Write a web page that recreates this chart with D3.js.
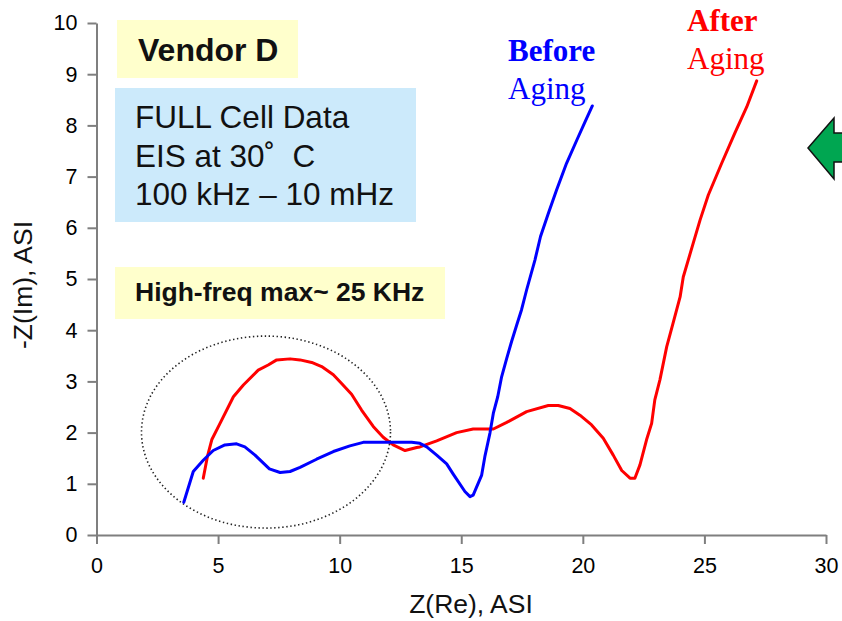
<!DOCTYPE html>
<html>
<head>
<meta charset="utf-8">
<script src="https://cdn.jsdelivr.net/npm/d3@7"></script>
<style>
  html, body { margin: 0; padding: 0; background: #fff; }
  svg { display: block; }
  text { white-space: pre; }
</style>
</head>
<body>
<svg id="chart" width="842" height="621"></svg>
<script>
// Nyquist plot data: Z(Re) and -Z(Im) in ASI units
const beforeRe = [3.59, 3.98, 4.39, 4.80, 5.28, 5.76, 6.10, 6.52, 7.11, 7.55, 7.96, 8.37, 9.05, 9.74, 10.42, 10.97, 11.93, 12.96, 13.30, 13.58, 13.99, 14.40, 14.67, 15.15, 15.36, 15.49, 15.84, 15.97, 16.18, 16.32, 16.50, 16.66, 16.87, 17.07, 17.30, 17.48, 17.69, 18.03, 18.26, 18.58, 18.92, 19.33, 19.75, 20.09, 20.39];
const beforeIm = [0.64, 1.24, 1.46, 1.65, 1.76, 1.78, 1.72, 1.56, 1.29, 1.22, 1.24, 1.32, 1.48, 1.63, 1.74, 1.81, 1.81, 1.81, 1.79, 1.72, 1.56, 1.39, 1.19, 0.85, 0.75, 0.78, 1.17, 1.53, 1.99, 2.38, 2.70, 3.09, 3.45, 3.78, 4.13, 4.40, 4.79, 5.37, 5.83, 6.28, 6.74, 7.26, 7.71, 8.07, 8.38];

const afterRe = [4.39, 4.56, 4.74, 5.08, 5.63, 6.04, 6.65, 7.06, 7.41, 7.96, 8.37, 8.85, 9.26, 9.74, 10.08, 10.49, 10.90, 11.38, 11.79, 12.20, 12.69, 13.17, 13.30, 13.99, 14.81, 15.49, 16.32, 16.87, 17.69, 18.58, 18.99, 19.47, 19.88, 20.36, 20.84, 21.25, 21.60, 21.94, 22.14, 22.35, 22.62, 22.83, 22.96, 23.17, 23.45, 23.70, 24.00, 24.13, 24.54, 24.82, 25.16, 25.71, 26.25, 26.74, 27.15];
const afterIm = [1.11, 1.53, 1.86, 2.18, 2.70, 2.93, 3.22, 3.32, 3.42, 3.44, 3.42, 3.37, 3.29, 3.13, 2.96, 2.75, 2.44, 2.12, 1.91, 1.76, 1.65, 1.71, 1.72, 1.84, 2.00, 2.07, 2.07, 2.20, 2.41, 2.53, 2.53, 2.47, 2.34, 2.15, 1.89, 1.56, 1.26, 1.11, 1.11, 1.37, 1.86, 2.18, 2.64, 3.03, 3.68, 4.12, 4.65, 5.04, 5.70, 6.15, 6.64, 7.26, 7.85, 8.36, 8.87];

const xTicks = [0, 5, 10, 15, 20, 25, 30];
const yTicks = [0, 1, 2, 3, 4, 5, 6, 7, 8, 9, 10];

// High-frequency arc region highlighted with a dotted ellipse (data units)
const arcRegion = { cx: 6.97, cy: 2.01, rx: 5.12, ry: 1.875 };

const infoLines = ["FULL Cell Data", "EIS at 30\u02DA  C", "100 kHz \u2013 10 mHz"];

const svg = d3.select("#chart");
const x = d3.scaleLinear().domain([0, 30]).range([96.5, 826]);
const y = d3.scaleLinear().domain([0, 10]).range([535, 23]);

const axisColor = "#7f7f7f";
const sans = "'Liberation Sans', Arial, sans-serif";
const serif = "'Liberation Serif', 'Times New Roman', serif";

// Annotation boxes
svg.append("rect").attr("x", 117).attr("y", 20).attr("width", 181).attr("height", 58).attr("fill", "#ffffcc");
svg.append("text").attr("x", 138).attr("y", 61).attr("font-family", sans).attr("font-weight", "bold")
  .attr("font-size", 32).attr("fill", "#111").text("Vendor D");

svg.append("rect").attr("x", 115).attr("y", 88).attr("width", 301).attr("height", 134).attr("fill", "#cceafb");
svg.append("g").selectAll("text").data(infoLines).join("text")
  .attr("x", 135).attr("y", (d, i) => 128 + i * 38.5)
  .attr("font-family", sans).attr("font-size", 31.5).attr("fill", "#111")
  .text(d => d);

svg.append("rect").attr("x", 115).attr("y", 267).attr("width", 330).attr("height", 52).attr("fill", "#ffffcc");
svg.append("text").attr("x", 135).attr("y", 301).attr("font-family", sans).attr("font-weight", "bold")
  .attr("font-size", 26.5).attr("fill", "#111").text("High-freq max~ 25 KHz");

// Axes
const xAxis = d3.axisBottom(x).tickValues(xTicks).tickSize(9).tickSizeOuter(0).tickPadding(10);
const yAxis = d3.axisLeft(y).tickValues(yTicks).tickSize(9).tickSizeOuter(0).tickPadding(10);

const gx = svg.append("g").attr("transform", `translate(0,${y(0)})`).call(xAxis);
const gy = svg.append("g").attr("transform", `translate(${x(0)},0)`).call(yAxis);
[gx, gy].forEach(g => {
  g.select(".domain").attr("stroke", axisColor).attr("stroke-width", 2);
  g.selectAll(".tick line").attr("stroke", axisColor).attr("stroke-width", 2);
  g.selectAll(".tick text").attr("font-family", sans).attr("font-size", 21.5).attr("fill", "#000");
});
gx.selectAll(".tick text").attr("dy", "0.9em");

svg.append("text").attr("x", 471).attr("y", 613).attr("text-anchor", "middle")
  .attr("font-family", sans).attr("font-size", 26.5).attr("fill", "#111").text("Z(Re), ASI");
svg.append("text").attr("transform", `translate(32,${(y(0) + y(10)) / 2 + 6}) rotate(-90)`).attr("text-anchor", "middle")
  .attr("font-family", sans).attr("font-size", 26.5).attr("fill", "#111").text("-Z(Im), ASI");

// Dotted ellipse around the high-frequency arcs
svg.append("ellipse")
  .attr("cx", x(arcRegion.cx)).attr("cy", y(arcRegion.cy))
  .attr("rx", x(arcRegion.rx) - x(0)).attr("ry", y(0) - y(arcRegion.ry))
  .attr("fill", "none").attr("stroke", "#222").attr("stroke-width", 1.6)
  .attr("stroke-dasharray", "1.4 2.6");

// Impedance curves
const line = d3.line().x(d => x(d[0])).y(d => y(d[1]));
const series = [
  { re: afterRe, im: afterIm, color: "#ff0000" },
  { re: beforeRe, im: beforeIm, color: "#0000ff" }
];
series.forEach(s => {
  svg.append("path")
    .datum(s.re.map((v, i) => [v, s.im[i]]))
    .attr("d", line)
    .attr("fill", "none").attr("stroke", s.color).attr("stroke-width", 3)
    .attr("stroke-linejoin", "round").attr("stroke-linecap", "round");
});

// Curve labels
const labels = [
  { x: 508, y: 61, bold: "Before", plain: "Aging", color: "#0000ff" },
  { x: 687, y: 31, bold: "After", plain: "Aging", color: "#ff0000" }
];
labels.forEach(l => {
  svg.append("text").attr("x", l.x).attr("y", l.y).attr("font-family", serif).attr("font-weight", "bold")
    .attr("font-size", 31).attr("fill", l.color).text(l.bold);
  svg.append("text").attr("x", l.x).attr("y", l.y + 38).attr("font-family", serif)
    .attr("font-size", 31).attr("fill", l.color).text(l.plain);
});

// Green pointer arrow at the right edge
svg.append("path")
  .attr("d", "M808,148 L834,118 L834,133 L852,133 L852,162 L834,162 L834,179 Z")
  .attr("fill", "#00a651").attr("stroke", "#111").attr("stroke-width", 1.5)
  .attr("stroke-linejoin", "miter");
</script>
</body>
</html>
